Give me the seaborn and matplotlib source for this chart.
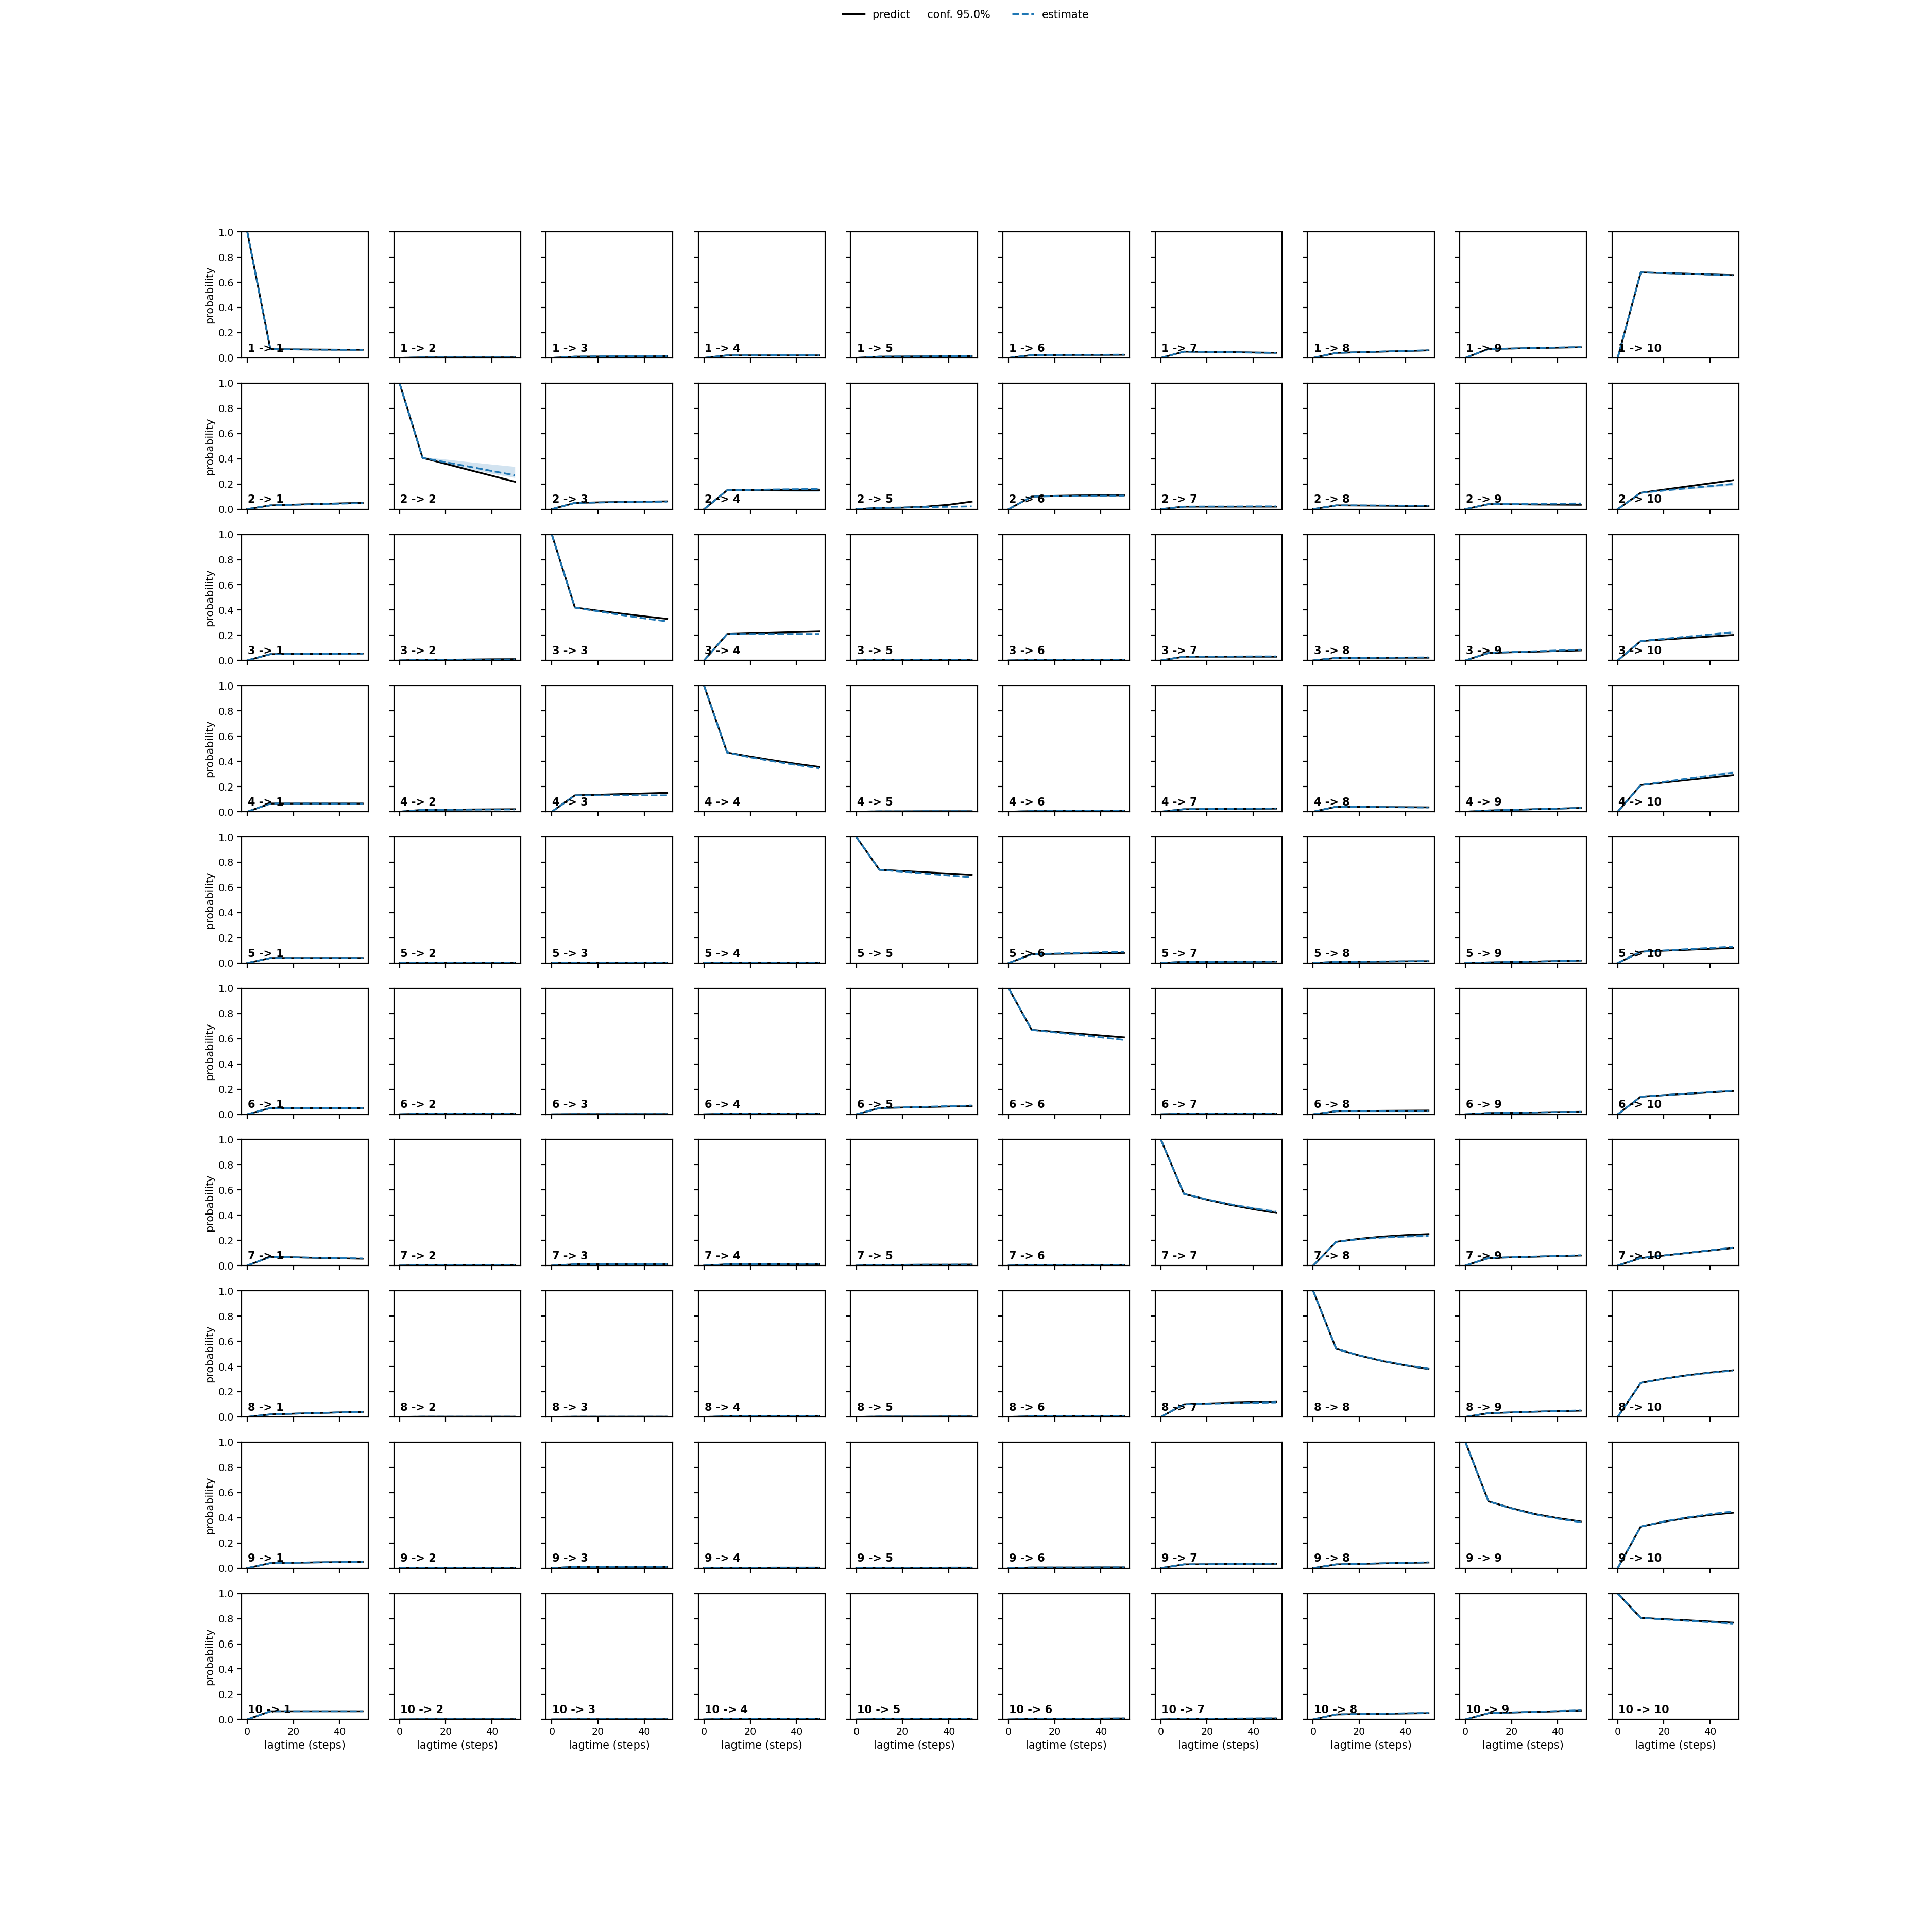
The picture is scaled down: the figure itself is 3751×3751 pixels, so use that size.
import numpy as np
import pandas as pd
import matplotlib
matplotlib.use("Agg")
import matplotlib.pyplot as plt
import seaborn as sns

# ---------------- data ----------------
LAGTIMES = [0, 10, 20, 30, 40, 50]
N_STATES = 10
LEGEND_LABELS = ["predict     conf. 95.0%", "estimate"]
X_LABEL = "lagtime (steps)"
Y_LABEL = "probability"

# lag 0: identity (every set stays in itself)
LAG0 = np.eye(N_STATES).tolist()

# lag 10: estimate == prediction
LAG10 = [
    [0.070, 0.004, 0.010, 0.020, 0.010, 0.022, 0.050, 0.040, 0.072, 0.678],
    [0.030, 0.407, 0.050, 0.150, 0.010, 0.100, 0.020, 0.030, 0.040, 0.130],
    [0.050, 0.005, 0.420, 0.210, 0.004, 0.004, 0.030, 0.020, 0.060, 0.154],
    [0.065, 0.015, 0.130, 0.470, 0.003, 0.005, 0.020, 0.040, 0.010, 0.212],
    [0.040, 0.002, 0.002, 0.003, 0.740, 0.070, 0.010, 0.010, 0.005, 0.090],
    [0.050, 0.005, 0.002, 0.005, 0.050, 0.670, 0.005, 0.025, 0.010, 0.140],
    [0.070, 0.003, 0.010, 0.010, 0.005, 0.005, 0.569, 0.189, 0.060, 0.060],
    [0.020, 0.002, 0.002, 0.005, 0.003, 0.005, 0.100, 0.540, 0.030, 0.270],
    [0.040, 0.002, 0.010, 0.003, 0.003, 0.005, 0.030, 0.030, 0.530, 0.330],
    [0.065, 0.002, 0.002, 0.005, 0.003, 0.005, 0.005, 0.040, 0.050, 0.806],
]

# estimates (black solid)
EST20 = [
    [0.068, 0.004, 0.011, 0.020, 0.011, 0.023, 0.048, 0.045, 0.075, 0.673],
    [0.036, 0.360, 0.054, 0.152, 0.012, 0.106, 0.020, 0.029, 0.039, 0.155],
    [0.052, 0.006, 0.395, 0.215, 0.004, 0.004, 0.030, 0.021, 0.065, 0.166],
    [0.065, 0.016, 0.135, 0.438, 0.003, 0.005, 0.021, 0.039, 0.015, 0.232],
    [0.040, 0.002, 0.002, 0.003, 0.730, 0.073, 0.010, 0.011, 0.009, 0.098],
    [0.050, 0.005, 0.002, 0.005, 0.054, 0.655, 0.005, 0.026, 0.012, 0.152],
    [0.066, 0.003, 0.010, 0.010, 0.006, 0.005, 0.523, 0.213, 0.066, 0.080],
    [0.026, 0.002, 0.002, 0.005, 0.003, 0.006, 0.107, 0.487, 0.036, 0.303],
    [0.043, 0.002, 0.010, 0.003, 0.003, 0.005, 0.031, 0.034, 0.476, 0.368],
    [0.065, 0.002, 0.002, 0.005, 0.003, 0.006, 0.006, 0.043, 0.055, 0.796],
]
EST30 = [
    [0.067, 0.004, 0.012, 0.020, 0.012, 0.024, 0.046, 0.050, 0.079, 0.668],
    [0.041, 0.312, 0.057, 0.152, 0.020, 0.109, 0.020, 0.028, 0.037, 0.180],
    [0.053, 0.007, 0.372, 0.220, 0.005, 0.005, 0.030, 0.021, 0.070, 0.178],
    [0.065, 0.018, 0.140, 0.408, 0.004, 0.006, 0.023, 0.037, 0.020, 0.252],
    [0.040, 0.002, 0.002, 0.004, 0.720, 0.075, 0.011, 0.012, 0.012, 0.105],
    [0.050, 0.005, 0.002, 0.005, 0.058, 0.640, 0.005, 0.028, 0.015, 0.163],
    [0.062, 0.003, 0.010, 0.011, 0.007, 0.005, 0.482, 0.230, 0.071, 0.100],
    [0.031, 0.002, 0.002, 0.005, 0.003, 0.007, 0.112, 0.443, 0.042, 0.330],
    [0.046, 0.002, 0.010, 0.004, 0.003, 0.005, 0.033, 0.038, 0.430, 0.398],
    [0.065, 0.002, 0.002, 0.005, 0.003, 0.006, 0.006, 0.045, 0.060, 0.787],
]
EST40 = [
    [0.066, 0.004, 0.012, 0.020, 0.013, 0.024, 0.043, 0.055, 0.082, 0.662],
    [0.046, 0.265, 0.060, 0.151, 0.035, 0.110, 0.020, 0.026, 0.036, 0.205],
    [0.054, 0.009, 0.350, 0.225, 0.005, 0.005, 0.030, 0.022, 0.075, 0.190],
    [0.065, 0.019, 0.145, 0.380, 0.004, 0.006, 0.024, 0.036, 0.025, 0.271],
    [0.040, 0.002, 0.002, 0.004, 0.710, 0.078, 0.011, 0.014, 0.016, 0.113],
    [0.050, 0.006, 0.002, 0.006, 0.062, 0.625, 0.006, 0.029, 0.018, 0.174],
    [0.058, 0.003, 0.010, 0.011, 0.007, 0.005, 0.448, 0.242, 0.076, 0.120],
    [0.036, 0.002, 0.002, 0.006, 0.004, 0.007, 0.116, 0.408, 0.046, 0.352],
    [0.048, 0.002, 0.010, 0.004, 0.004, 0.006, 0.034, 0.042, 0.397, 0.422],
    [0.065, 0.002, 0.002, 0.006, 0.004, 0.007, 0.007, 0.048, 0.065, 0.777],
]
EST50 = [
    [0.065, 0.004, 0.013, 0.020, 0.014, 0.025, 0.041, 0.060, 0.085, 0.657],
    [0.050, 0.218, 0.062, 0.150, 0.060, 0.110, 0.020, 0.025, 0.035, 0.230],
    [0.055, 0.010, 0.330, 0.230, 0.005, 0.005, 0.030, 0.022, 0.080, 0.202],
    [0.065, 0.020, 0.150, 0.355, 0.004, 0.007, 0.025, 0.035, 0.030, 0.290],
    [0.040, 0.002, 0.002, 0.004, 0.700, 0.080, 0.012, 0.015, 0.020, 0.120],
    [0.050, 0.006, 0.002, 0.006, 0.065, 0.610, 0.006, 0.030, 0.020, 0.185],
    [0.055, 0.003, 0.010, 0.012, 0.008, 0.005, 0.418, 0.250, 0.080, 0.140],
    [0.040, 0.002, 0.002, 0.006, 0.004, 0.008, 0.120, 0.380, 0.050, 0.370],
    [0.050, 0.002, 0.010, 0.004, 0.004, 0.006, 0.035, 0.045, 0.370, 0.440],
    [0.065, 0.002, 0.002, 0.006, 0.004, 0.008, 0.008, 0.050, 0.070, 0.768],
]

# predictions (blue dashed)
PRED20 = [
    [0.068, 0.004, 0.012, 0.020, 0.011, 0.023, 0.048, 0.045, 0.075, 0.673],
    [0.035, 0.372, 0.053, 0.153, 0.013, 0.104, 0.021, 0.030, 0.041, 0.148],
    [0.051, 0.006, 0.390, 0.210, 0.004, 0.004, 0.031, 0.021, 0.067, 0.171],
    [0.065, 0.016, 0.130, 0.432, 0.003, 0.005, 0.022, 0.039, 0.015, 0.237],
    [0.040, 0.002, 0.002, 0.003, 0.725, 0.075, 0.010, 0.011, 0.009, 0.100],
    [0.050, 0.005, 0.002, 0.005, 0.055, 0.650, 0.005, 0.025, 0.012, 0.152],
    [0.066, 0.003, 0.010, 0.011, 0.006, 0.005, 0.525, 0.210, 0.067, 0.080],
    [0.026, 0.002, 0.002, 0.005, 0.003, 0.006, 0.105, 0.488, 0.036, 0.302],
    [0.043, 0.002, 0.010, 0.003, 0.003, 0.005, 0.031, 0.034, 0.474, 0.370],
    [0.065, 0.002, 0.002, 0.005, 0.003, 0.006, 0.006, 0.043, 0.056, 0.794],
]
PRED30 = [
    [0.066, 0.004, 0.013, 0.021, 0.012, 0.024, 0.045, 0.051, 0.079, 0.667],
    [0.040, 0.338, 0.056, 0.156, 0.016, 0.106, 0.021, 0.029, 0.043, 0.166],
    [0.052, 0.007, 0.361, 0.210, 0.005, 0.005, 0.031, 0.022, 0.073, 0.189],
    [0.065, 0.017, 0.130, 0.400, 0.004, 0.006, 0.024, 0.037, 0.020, 0.262],
    [0.040, 0.002, 0.002, 0.004, 0.710, 0.080, 0.011, 0.013, 0.012, 0.110],
    [0.050, 0.005, 0.002, 0.005, 0.060, 0.630, 0.005, 0.025, 0.015, 0.164],
    [0.063, 0.003, 0.010, 0.012, 0.007, 0.005, 0.487, 0.223, 0.072, 0.101],
    [0.031, 0.002, 0.002, 0.005, 0.003, 0.007, 0.109, 0.445, 0.042, 0.329],
    [0.046, 0.002, 0.011, 0.004, 0.003, 0.005, 0.033, 0.039, 0.427, 0.402],
    [0.065, 0.002, 0.002, 0.005, 0.003, 0.006, 0.007, 0.046, 0.061, 0.783],
]
PRED40 = [
    [0.065, 0.004, 0.014, 0.021, 0.014, 0.025, 0.042, 0.056, 0.083, 0.661],
    [0.044, 0.303, 0.058, 0.158, 0.019, 0.107, 0.022, 0.028, 0.044, 0.183],
    [0.053, 0.007, 0.334, 0.210, 0.005, 0.005, 0.032, 0.023, 0.079, 0.206],
    [0.064, 0.018, 0.130, 0.371, 0.004, 0.006, 0.025, 0.035, 0.025, 0.286],
    [0.040, 0.002, 0.002, 0.004, 0.695, 0.085, 0.011, 0.014, 0.016, 0.120],
    [0.050, 0.006, 0.002, 0.006, 0.065, 0.610, 0.006, 0.025, 0.018, 0.176],
    [0.060, 0.003, 0.011, 0.013, 0.007, 0.005, 0.455, 0.231, 0.077, 0.122],
    [0.036, 0.002, 0.002, 0.006, 0.004, 0.007, 0.112, 0.410, 0.047, 0.350],
    [0.048, 0.002, 0.011, 0.004, 0.004, 0.006, 0.035, 0.043, 0.393, 0.428],
    [0.065, 0.002, 0.002, 0.006, 0.004, 0.007, 0.008, 0.049, 0.067, 0.772],
]
PRED50 = [
    [0.064, 0.004, 0.015, 0.021, 0.015, 0.026, 0.040, 0.061, 0.086, 0.655],
    [0.048, 0.269, 0.060, 0.160, 0.022, 0.108, 0.022, 0.028, 0.045, 0.200],
    [0.054, 0.008, 0.310, 0.210, 0.005, 0.005, 0.032, 0.024, 0.085, 0.223],
    [0.064, 0.018, 0.130, 0.345, 0.004, 0.007, 0.026, 0.034, 0.030, 0.310],
    [0.040, 0.002, 0.002, 0.004, 0.680, 0.090, 0.012, 0.016, 0.020, 0.130],
    [0.050, 0.006, 0.002, 0.006, 0.070, 0.590, 0.006, 0.025, 0.020, 0.188],
    [0.057, 0.003, 0.011, 0.014, 0.008, 0.005, 0.427, 0.237, 0.082, 0.142],
    [0.040, 0.002, 0.002, 0.006, 0.004, 0.008, 0.115, 0.382, 0.052, 0.368],
    [0.050, 0.002, 0.011, 0.004, 0.004, 0.006, 0.036, 0.046, 0.365, 0.450],
    [0.065, 0.002, 0.002, 0.006, 0.004, 0.008, 0.009, 0.052, 0.072, 0.761],
]

# 95% confidence band of the predictions (panels where it is visible)
CONF_LOWER = {
    (2, 2): [1.0, 0.400, 0.355, 0.318, 0.283, 0.250],
    (2, 4): [0.0, 0.145, 0.145, 0.143, 0.140, 0.137],
    (2, 9): [0.0, 0.038, 0.037, 0.036, 0.035, 0.035],
    (2, 10): [0.0, 0.128, 0.143, 0.158, 0.173, 0.188],
    (3, 10): [0.0, 0.151, 0.166, 0.183, 0.198, 0.214],
    (4, 10): [0.0, 0.209, 0.230, 0.253, 0.275, 0.298],
    (7, 7): [1.0, 0.565, 0.519, 0.480, 0.445, 0.414],
    (7, 8): [0.0, 0.186, 0.205, 0.216, 0.223, 0.228],
    (10, 10): [1.0, 0.803, 0.790, 0.778, 0.766, 0.755],
}
CONF_UPPER = {
    (2, 2): [1.0, 0.415, 0.396, 0.375, 0.356, 0.338],
    (2, 4): [0.0, 0.155, 0.160, 0.165, 0.168, 0.172],
    (2, 9): [0.0, 0.042, 0.045, 0.047, 0.049, 0.050],
    (2, 10): [0.0, 0.133, 0.153, 0.172, 0.192, 0.210],
    (3, 10): [0.0, 0.157, 0.176, 0.195, 0.214, 0.232],
    (4, 10): [0.0, 0.215, 0.243, 0.270, 0.298, 0.326],
    (7, 7): [1.0, 0.573, 0.532, 0.495, 0.466, 0.440],
    (7, 8): [0.0, 0.192, 0.215, 0.230, 0.240, 0.246],
    (10, 10): [1.0, 0.809, 0.798, 0.788, 0.778, 0.768],
}

# ---------------- plotting ----------------
sns.set_context("notebook", rc={
    "axes.linewidth": 1.25,
    "xtick.major.width": 1.25,
    "ytick.major.width": 1.25,
    "xtick.major.size": 5,
    "ytick.major.size": 5,
})
plt.rcParams["font.family"] = ["DejaVu Sans"]

estimates = np.array([LAG0, LAG10, EST20, EST30, EST40, EST50])
predictions = np.array([LAG0, LAG10, PRED20, PRED30, PRED40, PRED50])

fig, axes = plt.subplots(N_STATES, N_STATES, sharex=True, sharey=True,
                         figsize=(30.008, 30.008), dpi=125)

line_est = line_pred = None
for i in range(N_STATES):
    for j in range(N_STATES):
        ax = axes[i, j]
        df = pd.DataFrame({"lag": LAGTIMES,
                           "estimate": estimates[:, i, j],
                           "predict": predictions[:, i, j]})
        sns.lineplot(data=df, x="lag", y="estimate", ax=ax, color="black",
                     linewidth=2.0)
        sns.lineplot(data=df, x="lag", y="predict", ax=ax, color="C0",
                     linestyle="--", linewidth=2.0)
        line_est, line_pred = ax.lines[0], ax.lines[1]
        key = (i + 1, j + 1)
        if key in CONF_LOWER:
            ax.fill_between(LAGTIMES, CONF_LOWER[key], CONF_UPPER[key],
                            color="C0", alpha=0.2, linewidth=0)
        ax.text(0.05, 0.05, f"{i + 1} -> {j + 1}", transform=ax.transAxes,
                weight="bold", fontsize=12)
        ax.set_ylim(0, 1)
        ax.set_ylabel(Y_LABEL if j == 0 else "", fontsize=12)
        ax.set_xlabel(X_LABEL if i == N_STATES - 1 else "", fontsize=12)
        ax.tick_params(labelsize=11)

fig.legend((line_est, line_pred), LEGEND_LABELS, loc="upper center",
           ncol=2, frameon=False, fontsize=12)

fig.savefig("out.png", dpi=125)
